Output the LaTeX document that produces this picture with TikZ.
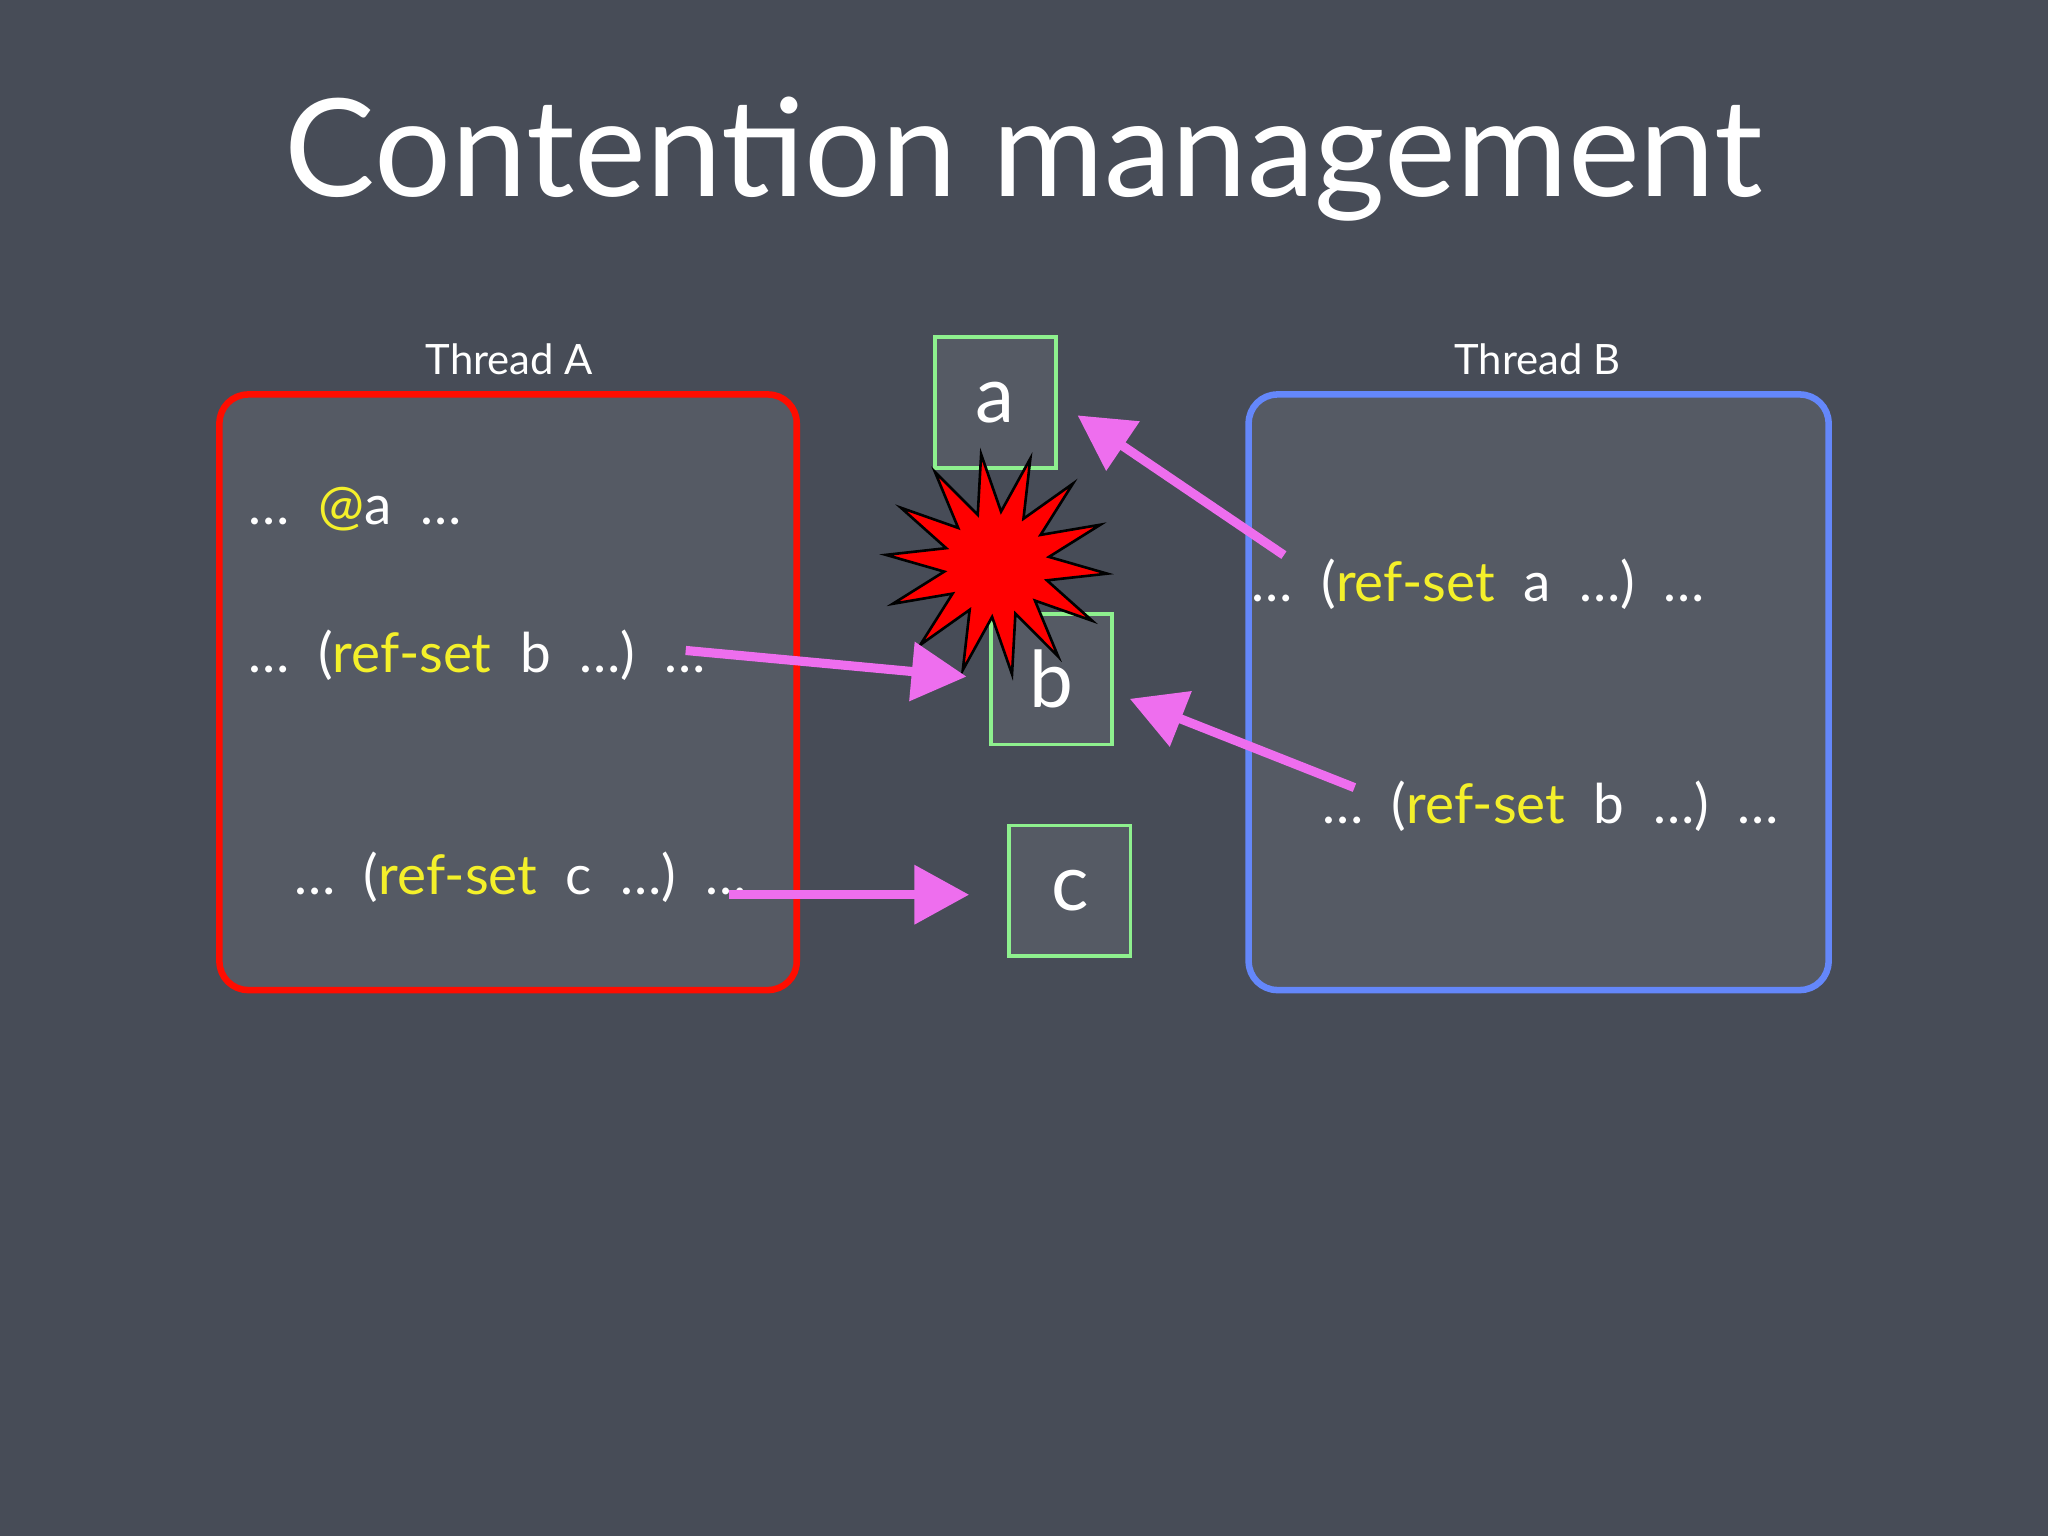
\documentclass[tikz,border=0pt]{standalone}
\usepackage{fontspec}
\setmainfont{Lato}
\usetikzlibrary{arrows.meta,shapes.geometric}
\definecolor{bg}{HTML}{474C57}
\definecolor{boxbg}{HTML}{555A64}
\definecolor{mag}{HTML}{EE6EEE}
\definecolor{ylw}{HTML}{F4F02A}
\definecolor{grn}{HTML}{8EF08E}
\newcommand{\widesp}{\spaceskip=22pt\relax}
\tikzset{
 code/.style={text=white,font=\fontsize{42}{46}\selectfont\widesp,anchor=west,inner sep=0},
 thr/.style={text=white,font=\fontsize{32}{38}\selectfont},
 obj/.style={draw=grn,line width=3pt,fill=boxbg,minimum width=93pt,minimum height=100pt,text=white,font=\fontsize{60}{70}\selectfont},
 arr/.style={mag,line width=7pt,-{Triangle[length=42pt,width=44pt]}},
}
\newcommand{\ys}[1]{\textcolor{ylw}{#1}}
\begin{document}
\begin{tikzpicture}[x=1pt,y=-1pt]
\fill[bg] (0,0) rectangle (1568,1176);
\node[text=white,font=\fontsize{104}{112}\selectfont] (title) at (784,122) {Contention management};
\node[thr] (ta) at (390,275) {Thread A};
\node[thr] (tb) at (1177,275) {Thread B};
\draw[red!90!orange,line width=5pt,fill=boxbg,rounded corners=22pt] (168,302) rectangle (610,758);
\draw[draw={rgb,255:red,100;green,135;blue,250},line width=5pt,fill=boxbg,rounded corners=22pt] (956,302) rectangle (1400,758);
\node[obj] (a) at (762,308) {a};
\node[obj] (b) at (805,520) {b};
\node[obj] (c) at (819,682) {c};
\node[star,star points=14,star point ratio=2.1,fill=red,draw=black,line width=2pt,minimum size=170pt,rotate=8] (boom) at (763,432) {};
\node[code] (l1) at (190,390) {… \ys{@}a …};
\node[code] (l2) at (190,502) {… (\ys{ref-set} b …) …};
\node[code] (l3) at (225,672) {… (\ys{ref-set} c …) …};
\node[code] (r1) at (958,447) {… (\ys{ref-set} a …) …};
\node[code] (r2) at (1012,617) {… (\ys{ref-set} b …) …};
\coordinate (s1) at (525,498);
\coordinate (e1) at (740,518);
\coordinate (s2) at (558,685);
\coordinate (e2) at (742,685);
\coordinate (s3) at (983,425);
\coordinate (e3) at (825,318);
\coordinate (s4) at (1037,603);
\coordinate (e4) at (865,535);
\draw[arr] (s1) -- (e1);
\draw[arr] (s2) -- (e2);
\draw[arr] (s3) -- (e3);
\draw[arr] (s4) -- (e4);
\end{tikzpicture}
\end{document}
